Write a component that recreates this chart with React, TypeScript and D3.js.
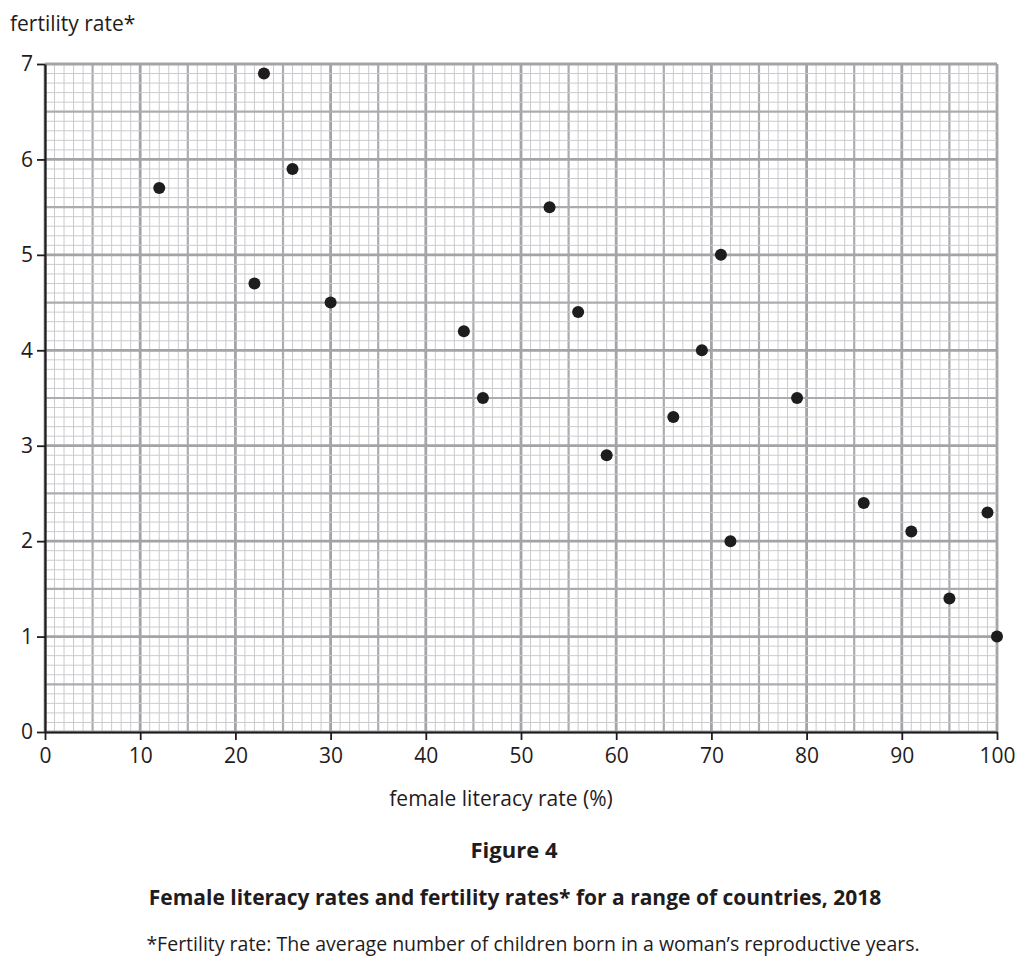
import React, { useEffect, useRef } from "react";
import * as d3 from "d3";

// female literacy rate (%) and fertility rate per country, 2018
const literacy = [12, 23, 26, 22, 30, 44, 46, 53, 56, 59, 66, 69, 71, 72, 79, 86, 91, 95, 99, 100];
const fertility = [5.7, 6.9, 5.9, 4.7, 4.5, 4.2, 3.5, 5.5, 4.4, 2.9, 3.3, 4.0, 5.0, 2.0, 3.5, 2.4, 2.1, 1.4, 2.3, 1.0];

const xTicks = [0, 10, 20, 30, 40, 50, 60, 70, 80, 90, 100];
const yTicks = [0, 1, 2, 3, 4, 5, 6, 7];

const FONT = "'Open Sans', sans-serif";

const App = () => {
  const ref = useRef<SVGSVGElement>(null);

  useEffect(() => {
    document.body.style.margin = "0";
    const svg = d3.select(ref.current);
    svg.selectAll("*").remove();

    const x = d3.scaleLinear().domain([0, 100]).range([45, 997]);
    const y = d3.scaleLinear().domain([0, 7]).range([732, 64]);

    const grid = svg.append("g");

    // grid: every 1 % and every 0.1, heavier every 5 / 10 steps
    const minorX = d3.range(0, 101, 1);
    const minorY = d3.range(0, 71, 1);
    grid
      .selectAll(".vx")
      .data(minorX)
      .enter()
      .append("line")
      .attr("x1", (d) => x(d))
      .attr("x2", (d) => x(d))
      .attr("y1", y(0))
      .attr("y2", y(7))
      .attr("stroke", (d) => (d % 10 === 0 ? "#a4a4a8" : d % 5 === 0 ? "#acacb0" : "#cbcbce"))
      .attr("stroke-width", (d) => (d % 10 === 0 ? 2.8 : d % 5 === 0 ? 2.2 : 1));
    grid
      .selectAll(".hy")
      .data(minorY)
      .enter()
      .append("line")
      .attr("x1", x(0))
      .attr("x2", x(100))
      .attr("y1", (d) => y(d / 10))
      .attr("y2", (d) => y(d / 10))
      .attr("stroke", (d) => (d % 10 === 0 ? "#a4a4a8" : d % 5 === 0 ? "#acacb0" : "#cbcbce"))
      .attr("stroke-width", (d) => (d % 10 === 0 ? 2.8 : d % 5 === 0 ? 2.2 : 1));

    // axes
    const xAxis = svg
      .append("g")
      .attr("transform", `translate(0,${y(0)})`)
      .call(d3.axisBottom(x).tickValues(xTicks).tickFormat(d3.format("d")).tickSize(8).tickSizeOuter(0));
    const yAxis = svg
      .append("g")
      .attr("transform", `translate(${x(0)},0)`)
      .call(d3.axisLeft(y).tickValues(yTicks).tickFormat(d3.format("d")).tickSize(8).tickSizeOuter(0));

    [xAxis, yAxis].forEach((a) => {
      a.select(".domain").attr("stroke", "#1f1c1d").attr("stroke-width", 2.2);
      a.selectAll(".tick line").attr("stroke", "#1f1c1d").attr("stroke-width", 1.8);
      a.selectAll(".tick text")
        .attr("fill", "#1f1c1d")
        .style("font-family", FONT)
        .style("font-size", "21px");
    });
    xAxis.selectAll(".tick text").attr("y", 12).attr("dy", "0.9em");
    yAxis.selectAll(".tick text").attr("x", -12);

    // dots
    svg
      .append("g")
      .selectAll("circle")
      .data(literacy)
      .enter()
      .append("circle")
      .attr("cx", (d) => x(d))
      .attr("cy", (d, i) => y(fertility[i]))
      .attr("r", 6)
      .attr("fill", "#1f1c1d");

    // labels
    const text = (tx: number, ty: number, s: string, size: number, weight = 400, anchor = "middle") =>
      svg
        .append("text")
        .attr("x", tx)
        .attr("y", ty)
        .attr("text-anchor", anchor)
        .attr("fill", "#1f1c1d")
        .style("font-family", FONT)
        .style("font-size", size + "px")
        .style("font-weight", weight)
        .text(s);

    text(10, 31, "fertility rate*", 21, 400, "start");
    text(501, 806, "female literacy rate (%)", 21);
    text(514, 858, "Figure 4", 22, 700);
    text(515, 905, "Female literacy rates and fertility rates* for a range of countries, 2018", 21, 700);
    text(533, 951, "*Fertility rate: The average number of children born in a woman\u2019s reproductive years.", 19.5);
  }, []);

  return <svg ref={ref} width={1032} height={970} style={{ display: "block", background: "#fff" }} />;
};

export default App;
